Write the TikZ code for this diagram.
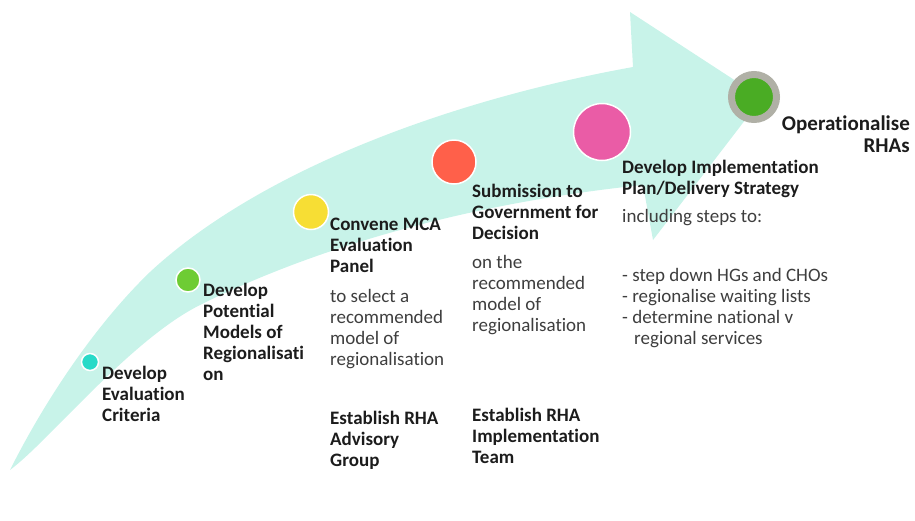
\documentclass[tikz,border=0pt]{standalone}
\usepackage{fontspec}
\setmainfont{Carlito}[Ligatures=NoCommon]
\usetikzlibrary{positioning}
\definecolor{band}{RGB}{200,243,233}
\definecolor{ink}{RGB}{28,28,28}
\definecolor{greyink}{RGB}{62,62,62}
\definecolor{dotcyan}{RGB}{40,218,200}
\definecolor{dotgreen}{RGB}{110,204,52}
\definecolor{dotyellow}{RGB}{247,222,52}
\definecolor{dotred}{RGB}{255,96,74}
\definecolor{dotpink}{RGB}{234,92,166}
\definecolor{ringgrey}{RGB}{176,176,166}
\definecolor{endgreen}{RGB}{74,172,36}
\tikzset{
  dot/.style={circle, draw=white, line width=1.5pt, inner sep=0pt, minimum size=#1},
  % anchored on the baseline of the last line
  title/.style={anchor=base west, align=left, inner sep=0pt, text=ink,
    font=\bfseries\fontsize{19}{21}\selectfont},
  desc/.style={anchor=base west, align=left, inner sep=0pt, text=greyink,
    font=\fontsize{19}{21}\selectfont},
}
\begin{document}
\begin{tikzpicture}[x=1pt,y=-1pt]
\useasboundingbox (0,0) rectangle (915,520);
% the curved arrow
\fill[band] (10,470) .. controls (40,410) and (90,330) .. (150,272)
  .. controls (260,170) and (450,100) .. (633,67)
  -- (630,12) -- (762,98) -- (653,240) -- (643,185)
  .. controls (450,205) and (300,255) .. (200,305)
  .. controls (130,340) and (50,440) .. (10,470) -- cycle;
% milestones
\node[dot=17, fill=dotcyan] (m1) at (90,362) {};
\node[dot=24, fill=dotgreen] (m2) at (188,280) {};
\node[dot=35, fill=dotyellow] (m3) at (311,212) {};
\node[dot=44, fill=dotred] (m4) at (454,162) {};
\node[dot=57, fill=dotpink] (m5) at (602,132) {};
\node[circle, draw=ringgrey, line width=7pt, fill=endgreen, inner sep=0pt,
  minimum size=45] (m6) at (754,97) {};
% labels
\node[title] (crit) at (102,421) {Develop\\Evaluation\\Criteria};
\node[title] (models) at (203,380) {Develop\\Potential\\Models of\\Regionalisati\\on};
\node[title] (panel) at (330,272) {Convene MCA\\Evaluation\\Panel};
\node[desc] (select) at (330,365) {to select a\\recommended\\model of\\regionalisation};
\node[title] (advisory) at (330,466) {Establish RHA\\Advisory\\Group};
\node[title] (submit) at (472,239) {Submission to\\Government for\\Decision};
\node[desc] (decide) at (472,331) {on the\\recommended\\model of\\regionalisation};
\node[title] (team) at (472,463) {Establish RHA\\Implementation\\Team};
\node[title] (plan) at (622,194) {Develop Implementation\\Plan/Delivery Strategy};
\node[desc] (steps) at (622,222) {including steps to:};
\node[desc] (list) at (622,344) {- step down HGs and CHOs\\- regionalise waiting lists\\- determine national v\\\hspace*{12pt}regional services};
\node[title, anchor=base east, align=right, font=\bfseries\fontsize{21}{22}\selectfont]
  (ops) at (910,152) {Operationalise\\RHAs};
\end{tikzpicture}
\end{document}
